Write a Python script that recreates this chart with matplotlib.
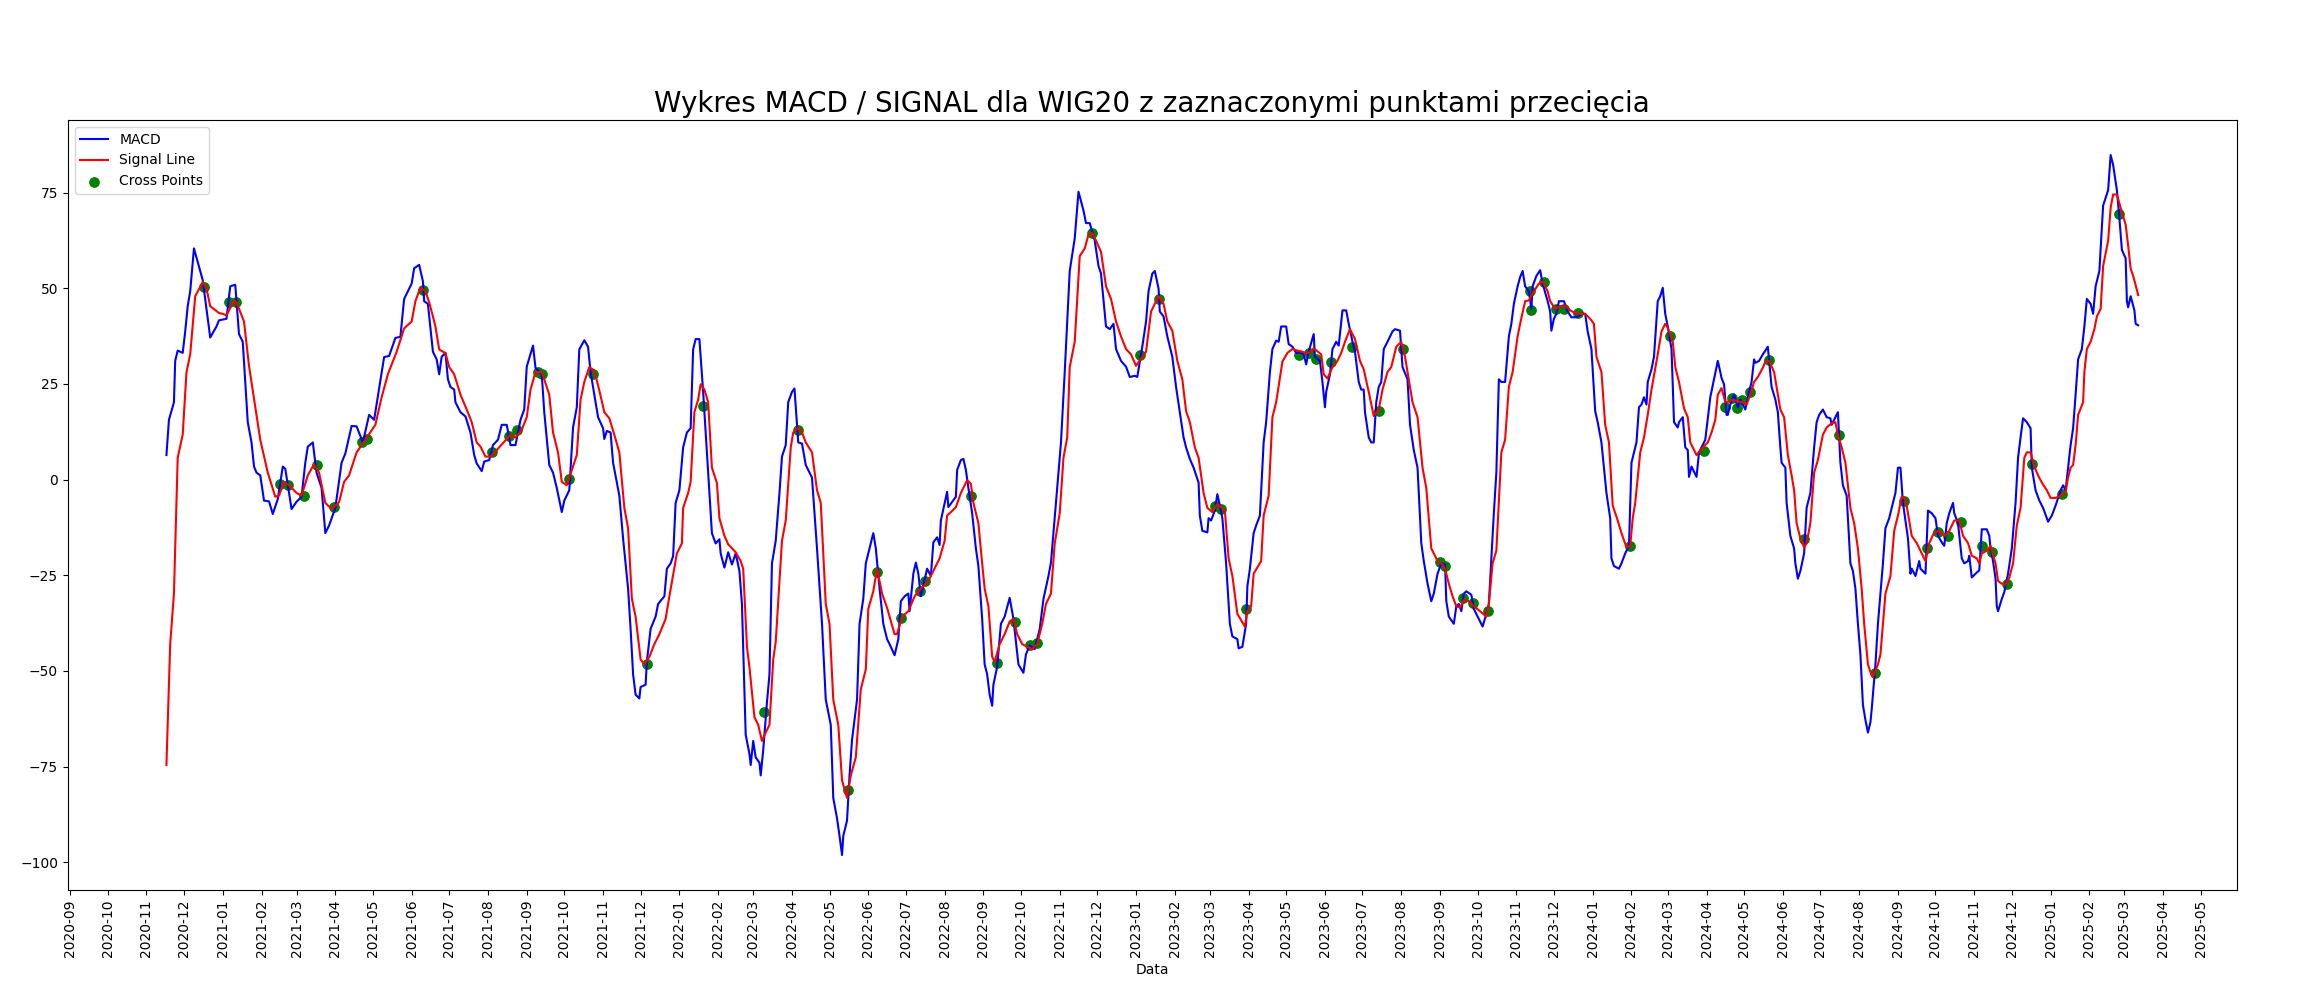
import pandas as pd
import matplotlib
matplotlib.use("Agg")
import matplotlib.pyplot as plt
import matplotlib.dates as mdates

# MACD line
macd_dates = [
    "2020-11-17", "2020-11-19", "2020-11-23", "2020-11-24", "2020-11-26", "2020-11-30", "2020-12-02",
    "2020-12-04", "2020-12-06", "2020-12-09", "2020-12-14", "2020-12-16", "2020-12-19", "2020-12-22",
    "2020-12-27", "2020-12-29", "2021-01-04", "2021-01-07", "2021-01-11", "2021-01-14", "2021-01-17",
    "2021-01-21", "2021-01-24", "2021-01-26", "2021-01-28", "2021-01-31", "2021-02-03", "2021-02-07",
    "2021-02-10", "2021-02-14", "2021-02-18", "2021-02-20", "2021-02-25", "2021-03-01", "2021-03-05",
    "2021-03-08", "2021-03-10", "2021-03-14", "2021-03-17", "2021-03-21", "2021-03-24", "2021-03-27",
    "2021-04-01", "2021-04-06", "2021-04-09", "2021-04-14", "2021-04-18", "2021-04-23", "2021-04-28",
    "2021-05-02", "2021-05-10", "2021-05-14", "2021-05-19", "2021-05-23", "2021-05-26",
    "2021-06-01", "2021-06-03", "2021-06-07", "2021-06-10", "2021-06-11", "2021-06-14", "2021-06-18",
    "2021-06-21", "2021-06-23", "2021-06-25", "2021-06-28", "2021-06-30", "2021-07-02", "2021-07-05",
    "2021-07-06", "2021-07-10", "2021-07-14", "2021-07-18", "2021-07-21", "2021-07-23", "2021-07-27",
    "2021-07-29", "2021-08-02", "2021-08-05", "2021-08-09", "2021-08-12", "2021-08-16", "2021-08-19",
    "2021-08-23", "2021-08-27", "2021-08-30", "2021-09-01", "2021-09-04", "2021-09-06", "2021-09-08",
    "2021-09-13", "2021-09-15", "2021-09-19", "2021-09-22", "2021-09-25", "2021-09-29", "2021-10-01",
    "2021-10-05", "2021-10-08", "2021-10-11", "2021-10-13", "2021-10-17", "2021-10-20", "2021-10-22",
    "2021-10-28", "2021-11-01", "2021-11-02", "2021-11-04", "2021-11-07", "2021-11-09", "2021-11-14",
    "2021-11-17", "2021-11-21", "2021-11-23", "2021-11-25", "2021-11-27", "2021-11-30", "2021-12-01",
    "2021-12-05", "2021-12-06", "2021-12-09", "2021-12-13", "2021-12-15", "2021-12-20", "2021-12-22",
    "2021-12-25", "2021-12-27", "2021-12-29", "2022-01-01", "2022-01-04", "2022-01-07", "2022-01-10",
    "2022-01-12", "2022-01-14", "2022-01-17", "2022-01-20", "2022-01-24", "2022-01-27", "2022-01-30",
    "2022-02-02", "2022-02-03", "2022-02-06", "2022-02-09", "2022-02-12", "2022-02-15", "2022-02-18",
    "2022-02-20", "2022-02-23", "2022-02-26", "2022-02-27", "2022-03-01", "2022-03-03", "2022-03-06",
    "2022-03-07", "2022-03-09", "2022-03-12", "2022-03-14", "2022-03-16", "2022-03-19", "2022-03-22",
    "2022-03-24", "2022-03-27", "2022-03-29", "2022-04-01", "2022-04-03", "2022-04-06", "2022-04-09",
    "2022-04-12", "2022-04-17", "2022-04-21", "2022-04-25", "2022-04-28", "2022-05-02", "2022-05-04",
    "2022-05-07", "2022-05-09", "2022-05-11", "2022-05-12", "2022-05-15", "2022-05-17", "2022-05-19",
    "2022-05-23", "2022-05-25", "2022-05-28", "2022-05-30", "2022-06-01", "2022-06-05", "2022-06-07",
    "2022-06-10", "2022-06-13", "2022-06-16", "2022-06-18", "2022-06-22", "2022-06-25", "2022-06-27",
    "2022-06-30", "2022-07-03", "2022-07-04", "2022-07-07", "2022-07-09", "2022-07-11", "2022-07-13",
    "2022-07-18", "2022-07-21", "2022-07-23", "2022-07-26", "2022-07-28", "2022-07-29", "2022-08-03",
    "2022-08-04", "2022-08-10", "2022-08-11", "2022-08-14", "2022-08-16", "2022-08-18", "2022-08-20",
    "2022-08-23", "2022-08-26", "2022-08-28", "2022-08-31", "2022-09-02", "2022-09-04", "2022-09-06",
    "2022-09-08", "2022-09-09", "2022-09-12", "2022-09-15", "2022-09-18", "2022-09-22", "2022-09-25",
    "2022-09-29", "2022-10-03", "2022-10-05", "2022-10-08", "2022-10-12", "2022-10-16", "2022-10-19",
    "2022-10-23", "2022-10-25", "2022-10-28", "2022-10-31", "2022-11-02", "2022-11-05", "2022-11-09",
    "2022-11-13", "2022-11-16", "2022-11-20", "2022-11-22", "2022-11-25", "2022-11-29", "2022-12-02",
    "2022-12-04", "2022-12-08", "2022-12-11", "2022-12-14", "2022-12-16", "2022-12-20", "2022-12-24",
    "2022-12-27", "2022-12-31", "2023-01-02", "2023-01-06", "2023-01-09", "2023-01-11", "2023-01-14",
    "2023-01-16", "2023-01-19", "2023-01-20", "2023-01-23", "2023-01-26", "2023-01-30", "2023-02-02",
    "2023-02-05", "2023-02-08", "2023-02-10", "2023-02-13", "2023-02-16", "2023-02-20", "2023-02-21",
    "2023-02-23", "2023-02-27", "2023-02-28", "2023-03-02", "2023-03-05", "2023-03-07", "2023-03-09",
    "2023-03-11", "2023-03-14", "2023-03-17", "2023-03-19", "2023-03-23", "2023-03-24", "2023-03-27",
    "2023-03-30", "2023-03-31", "2023-04-02", "2023-04-05", "2023-04-07", "2023-04-10", "2023-04-13",
    "2023-04-15", "2023-04-18", "2023-04-20", "2023-04-23", "2023-04-25", "2023-04-27", "2023-05-01",
    "2023-05-03", "2023-05-06", "2023-05-09", "2023-05-13", "2023-05-15", "2023-05-17", "2023-05-19",
    "2023-05-23", "2023-05-24", "2023-05-28", "2023-05-30", "2023-06-01", "2023-06-02", "2023-06-05",
    "2023-06-07", "2023-06-10", "2023-06-12", "2023-06-15", "2023-06-18", "2023-06-20", "2023-06-23",
    "2023-06-25", "2023-06-28", "2023-06-30", "2023-07-02", "2023-07-03", "2023-07-06", "2023-07-08",
    "2023-07-10", "2023-07-12", "2023-07-14", "2023-07-16", "2023-07-18", "2023-07-21", "2023-07-25",
    "2023-07-27", "2023-07-31", "2023-08-02", "2023-08-06", "2023-08-08", "2023-08-11", "2023-08-14",
    "2023-08-17", "2023-08-19", "2023-08-22", "2023-08-25", "2023-08-27", "2023-08-30", "2023-09-02",
    "2023-09-05", "2023-09-06", "2023-09-08", "2023-09-12", "2023-09-14", "2023-09-16", "2023-09-18",
    "2023-09-20", "2023-09-22", "2023-09-26", "2023-09-28", "2023-10-02", "2023-10-05", "2023-10-08",
    "2023-10-10", "2023-10-12", "2023-10-14", "2023-10-16", "2023-10-18", "2023-10-20", "2023-10-23",
    "2023-10-26", "2023-10-28", "2023-10-30", "2023-11-02", "2023-11-04", "2023-11-06", "2023-11-08",
    "2023-11-11", "2023-11-13", "2023-11-14", "2023-11-17", "2023-11-20", "2023-11-22", "2023-11-26",
    "2023-11-28", "2023-11-29", "2023-12-01", "2023-12-03", "2023-12-05", "2023-12-09", "2023-12-12",
    "2023-12-15", "2023-12-19", "2023-12-23", "2023-12-26", "2023-12-28", "2023-12-31", "2024-01-03",
    "2024-01-05", "2024-01-08", "2024-01-10", "2024-01-12", "2024-01-15", "2024-01-16", "2024-01-18",
    "2024-01-22", "2024-01-24", "2024-01-27", "2024-01-30", "2024-02-01", "2024-02-03", "2024-02-05",
    "2024-02-07", "2024-02-09", "2024-02-11", "2024-02-13", "2024-02-14", "2024-02-17", "2024-02-19",
    "2024-02-22", "2024-02-24", "2024-02-26", "2024-02-28", "2024-03-01", "2024-03-04", "2024-03-06",
    "2024-03-09", "2024-03-10", "2024-03-13", "2024-03-15", "2024-03-17", "2024-03-18", "2024-03-20",
    "2024-03-24", "2024-03-26", "2024-03-31", "2024-04-02", "2024-04-04", "2024-04-07", "2024-04-10",
    "2024-04-12", "2024-04-13", "2024-04-15", "2024-04-17", "2024-04-18", "2024-04-20", "2024-04-23",
    "2024-04-26", "2024-04-28", "2024-05-02", "2024-05-05", "2024-05-07", "2024-05-09", "2024-05-10",
    "2024-05-13", "2024-05-16", "2024-05-18", "2024-05-20", "2024-05-23", "2024-05-26", "2024-05-28",
    "2024-05-30", "2024-05-31", "2024-06-03", "2024-06-04", "2024-06-07", "2024-06-10", "2024-06-11",
    "2024-06-13", "2024-06-15", "2024-06-18", "2024-06-20", "2024-06-23", "2024-06-26", "2024-06-28",
    "2024-06-30", "2024-07-03", "2024-07-06", "2024-07-09", "2024-07-10", "2024-07-13", "2024-07-15",
    "2024-07-17", "2024-07-19", "2024-07-22", "2024-07-25", "2024-07-27", "2024-07-29", "2024-07-31",
    "2024-08-02", "2024-08-04", "2024-08-06", "2024-08-08", "2024-08-10", "2024-08-11", "2024-08-14",
    "2024-08-16", "2024-08-18", "2024-08-20", "2024-08-22", "2024-08-25", "2024-08-27", "2024-08-30",
    "2024-09-01", "2024-09-03", "2024-09-05", "2024-09-09", "2024-09-11", "2024-09-12", "2024-09-15",
    "2024-09-18", "2024-09-19", "2024-09-23", "2024-09-25", "2024-09-28", "2024-10-01", "2024-10-03",
    "2024-10-06", "2024-10-08", "2024-10-10", "2024-10-12", "2024-10-15", "2024-10-16", "2024-10-19",
    "2024-10-22", "2024-10-24", "2024-10-27", "2024-10-28", "2024-10-30", "2024-11-02", "2024-11-05",
    "2024-11-07", "2024-11-11", "2024-11-13", "2024-11-14", "2024-11-16", "2024-11-18", "2024-11-19",
    "2024-11-20", "2024-11-23", "2024-11-25", "2024-11-28", "2024-12-01", "2024-12-04", "2024-12-06",
    "2024-12-08", "2024-12-10", "2024-12-13", "2024-12-16", "2024-12-17", "2024-12-20", "2024-12-23",
    "2024-12-26", "2024-12-30", "2025-01-02", "2025-01-05", "2025-01-09", "2025-01-11", "2025-01-13",
    "2025-01-15", "2025-01-17", "2025-01-19", "2025-01-21", "2025-01-23", "2025-01-26", "2025-01-28",
    "2025-01-30", "2025-02-02", "2025-02-04", "2025-02-06", "2025-02-09", "2025-02-12", "2025-02-14",
    "2025-02-16", "2025-02-18", "2025-02-20", "2025-02-23", "2025-02-25", "2025-02-27", "2025-03-02",
    "2025-03-03", "2025-03-04", "2025-03-06", "2025-03-09", "2025-03-10", "2025-03-12",
]
macd_values = [
    6.4, 15.6, 20.2, 31.0, 33.7, 33.1, 38.7,
    45.3, 49.2, 60.4, 54.5, 52.1, 44.6, 37.1,
    40.0, 41.6, 42.0, 50.5, 50.9, 38.0, 36.0,
    15.0, 9.7, 3.4, 1.8, 1.1, -5.5, -5.7,
    -9.0, -5.1, 3.4, 2.8, -7.7, -5.8, -4.5,
    4.4, 8.6, 9.7, 1.8, -2.2, -14.0, -12.0,
    -7.4, 4.4, 6.8, 14.0, 13.9, 9.7, 16.9,
    15.6, 32.0, 32.3, 37.0, 37.3, 47.2,
    51.2, 55.2, 56.1, 51.8, 46.6, 45.9, 33.4,
    31.4, 27.5, 32.1, 33.1, 26.2, 24.2, 23.5,
    20.2, 17.6, 16.5, 12.3, 6.4, 4.2, 2.2,
    4.7, 5.1, 9.0, 10.4, 14.3, 14.3, 9.0,
    9.0, 15.6, 18.3, 29.5, 32.8, 35.0, 29.2,
    27.5, 17.6, 3.8, 1.8, -2.2, -8.5, -5.5,
    -2.8, 13.6, 18.9, 34.0, 36.4, 34.7, 28.1,
    16.3, 13.4, 10.6, 12.7, 12.3, 4.4, -4.2,
    -15.4, -28.5, -39.0, -50.9, -56.2, -57.2, -54.2,
    -53.6, -47.6, -39.0, -35.8, -32.5, -30.5, -23.3,
    -21.9, -20.0, -6.1, -2.8, 8.4, 12.3, 13.4,
    34.0, 36.7, 36.7, 22.9, 1.8, -14.0, -16.7,
    -15.6, -19.3, -23.0, -19.0, -22.2, -19.3, -23.9,
    -32.5, -66.7, -71.7, -74.6, -68.3, -72.6, -74.0,
    -77.3, -70.7, -58.2, -50.9, -21.9, -16.0, -3.5,
    6.0, 9.0, 20.2, 22.9, 23.8, 9.7, 9.4,
    3.8, 0.5, -18.0, -37.7, -57.5, -64.1, -83.2,
    -88.5, -93.1, -98.1, -93.1, -89.1, -77.3, -68.0,
    -57.5, -37.7, -31.1, -21.9, -19.3, -14.0, -18.0,
    -28.5, -37.7, -41.7, -43.0, -45.9, -41.7, -31.8,
    -30.5, -29.8, -34.4, -24.6, -21.7, -24.6, -30.5,
    -23.3, -25.2, -16.4, -15.1, -17.1, -10.7, -3.2,
    -7.2, -4.5, 2.5, 5.1, 5.4, 2.5, -2.2,
    -8.8, -18.0, -22.6, -36.4, -48.3, -50.9, -56.2,
    -59.1, -53.6, -48.9, -37.7, -35.8, -30.9, -36.4,
    -48.3, -50.5, -45.7, -43.3, -44.3, -39.1, -31.2,
    -25.2, -21.7, -10.1, 1.8, 9.7, 28.1, 54.5,
    63.0, 75.2, 70.3, 67.0, 67.0, 62.4, 55.8,
    53.8, 40.0, 39.3, 40.7, 34.1, 31.0, 29.5,
    26.8, 27.1, 26.8, 34.7, 41.3, 49.2, 53.8,
    54.5, 49.9, 43.9, 42.6, 37.4, 32.1, 24.2,
    17.6, 11.0, 8.4, 5.4, 3.1, -0.8, -9.4,
    -13.4, -13.8, -10.1, -10.7, -8.1, -3.8, -6.8,
    -10.1, -21.9, -37.7, -41.0, -41.7, -44.1, -43.7,
    -37.7, -27.9, -23.3, -14.0, -12.0, -9.4, 9.7,
    15.0, 28.1, 34.1, 36.3, 36.0, 40.0, 40.0,
    35.4, 34.7, 33.1, 33.1, 32.7, 30.1, 33.4,
    38.0, 32.1, 31.0, 25.5, 18.9, 22.9, 27.5,
    34.1, 36.0, 35.0, 44.2, 44.2, 40.7, 36.0,
    33.4, 25.5, 23.5, 23.5, 17.6, 11.0, 9.7,
    9.7, 20.2, 24.2, 25.5, 34.1, 36.0, 38.7,
    39.3, 38.9, 29.4, 26.2, 14.3, 7.7, 3.1,
    -16.6, -21.3, -27.2, -31.8, -29.8, -24.6, -21.9,
    -22.2, -31.8, -35.8, -37.7, -33.1, -32.5, -34.4,
    -29.8, -29.2, -30.1, -33.8, -36.4, -38.4, -35.1,
    -32.5, -20.6, -8.8, 1.8, 26.2, 25.5, 25.5,
    37.4, 40.7, 45.9, 50.5, 52.9, 54.5, 50.5,
    49.2, 44.6, 50.5, 53.2, 54.7, 51.2, 46.6,
    43.9, 38.9, 42.0, 43.3, 46.6, 46.6, 43.9,
    42.4, 42.4, 43.3, 43.3, 38.7, 34.1, 17.9,
    15.0, 9.7, 3.1, -3.5, -10.1, -20.6, -22.6,
    -23.3, -21.9, -19.3, -17.3, 4.4, 7.1, 9.7,
    18.9, 19.6, 21.5, 19.6, 25.5, 28.8, 32.1,
    46.6, 47.9, 50.1, 43.3, 40.0, 34.1, 15.0,
    13.6, 15.0, 16.3, 8.4, 7.7, 0.7, 3.4,
    0.7, 7.1, 10.4, 16.0, 21.5, 26.2, 31.0,
    28.1, 26.5, 24.9, 16.9, 16.9, 19.6, 22.2,
    18.9, 20.9, 18.3, 22.9, 25.5, 31.4, 30.5,
    31.0, 32.7, 33.7, 34.7, 24.2, 20.9, 17.6,
    8.4, 4.4, 3.1, -6.1, -14.7, -18.0, -21.9,
    -25.9, -23.9, -19.3, -7.4, -3.5, 8.4, 15.0,
    16.9, 18.3, 16.3, 16.0, 14.3, 16.3, 17.6,
    4.4, -1.5, -4.2, -21.9, -23.9, -28.5, -37.7,
    -45.7, -58.9, -62.8, -66.1, -63.4, -60.1, -48.3,
    -37.7, -29.8, -21.9, -12.7, -10.1, -7.4, -3.5,
    3.1, 3.1, -6.1, -15.4, -24.6, -23.3, -25.2,
    -21.3, -23.3, -24.6, -8.1, -8.8, -10.1, -14.7,
    -16.4, -17.3, -11.4, -8.8, -6.1, -8.8, -11.4,
    -20.6, -21.9, -21.3, -19.9, -25.6, -24.6, -23.7,
    -13.0, -13.0, -14.7, -18.0, -21.3, -25.9, -33.1,
    -34.4, -31.2, -29.4, -24.6, -18.0, -6.1, 5.7,
    11.0, 16.0, 15.0, 13.4, 3.1, -2.8, -5.5,
    -7.4, -11.0, -9.4, -6.8, -2.8, -1.5, -2.8,
    3.1, 9.0, 13.4, 22.2, 31.4, 34.1, 40.0,
    47.2, 45.9, 43.3, 50.5, 54.5, 71.6, 73.6,
    75.6, 84.8, 82.2, 75.6, 68.3, 60.0, 57.8,
    46.6, 45.0, 47.9, 44.2, 40.7, 40.3,
]

# Signal line
signal_dates = [
    "2020-11-17", "2020-11-20", "2020-11-23", "2020-11-26", "2020-11-30", "2020-12-03", "2020-12-06",
    "2020-12-10", "2020-12-16", "2020-12-19", "2020-12-22", "2020-12-29", "2021-01-01", "2021-01-04",
    "2021-01-10", "2021-01-12", "2021-01-18", "2021-01-22", "2021-01-28", "2021-01-31", "2021-02-06",
    "2021-02-12", "2021-02-15", "2021-02-19", "2021-02-23", "2021-03-01", "2021-03-05", "2021-03-10",
    "2021-03-15", "2021-03-19", "2021-03-24", "2021-03-29", "2021-04-04", "2021-04-08", "2021-04-12",
    "2021-04-18", "2021-04-24", "2021-05-03", "2021-05-08", "2021-05-13", "2021-05-20", "2021-05-26",
    "2021-06-01", "2021-06-04", "2021-06-08", "2021-06-12", "2021-06-15", "2021-06-18", "2021-06-20",
    "2021-06-23", "2021-06-26", "2021-06-28", "2021-07-01", "2021-07-05", "2021-07-10", "2021-07-15",
    "2021-07-19", "2021-07-23", "2021-07-26", "2021-07-30", "2021-08-03", "2021-08-08", "2021-08-14",
    "2021-08-19", "2021-08-23", "2021-08-28", "2021-09-01", "2021-09-04", "2021-09-08", "2021-09-13",
    "2021-09-19", "2021-09-22", "2021-09-26", "2021-09-29", "2021-10-03", "2021-10-05", "2021-10-11",
    "2021-10-14", "2021-10-17", "2021-10-21", "2021-10-25", "2021-10-29", "2021-11-02", "2021-11-06",
    "2021-11-10", "2021-11-14", "2021-11-18", "2021-11-21", "2021-11-24", "2021-11-27", "2021-12-01",
    "2021-12-04", "2021-12-08", "2021-12-12", "2021-12-16", "2021-12-21", "2021-12-24", "2021-12-30",
    "2022-01-03", "2022-01-04", "2022-01-08", "2022-01-10", "2022-01-13", "2022-01-16", "2022-01-18",
    "2022-01-21", "2022-01-24", "2022-01-27", "2022-01-31", "2022-02-02", "2022-02-06", "2022-02-09",
    "2022-02-15", "2022-02-19", "2022-02-21", "2022-02-24", "2022-02-26", "2022-03-02", "2022-03-05",
    "2022-03-08", "2022-03-11", "2022-03-14", "2022-03-17", "2022-03-19", "2022-03-24", "2022-03-27",
    "2022-03-31", "2022-04-02", "2022-04-06", "2022-04-09", "2022-04-12", "2022-04-17", "2022-04-21",
    "2022-04-24", "2022-04-28", "2022-05-01", "2022-05-04", "2022-05-08", "2022-05-11", "2022-05-15",
    "2022-05-18", "2022-05-22", "2022-05-26", "2022-05-30", "2022-06-01", "2022-06-05", "2022-06-08",
    "2022-06-12", "2022-06-16", "2022-06-22", "2022-06-24", "2022-06-28", "2022-07-03", "2022-07-08",
    "2022-07-13", "2022-07-19", "2022-07-23", "2022-07-28", "2022-08-01", "2022-08-03", "2022-08-06",
    "2022-08-10", "2022-08-14", "2022-08-19", "2022-08-22", "2022-08-24", "2022-08-28", "2022-08-31",
    "2022-09-02", "2022-09-05", "2022-09-08", "2022-09-10", "2022-09-14", "2022-09-18", "2022-09-22",
    "2022-09-25", "2022-09-28", "2022-10-02", "2022-10-06", "2022-10-10", "2022-10-14", "2022-10-18",
    "2022-10-21", "2022-10-25", "2022-10-28", "2022-11-01", "2022-11-04", "2022-11-07", "2022-11-09",
    "2022-11-13", "2022-11-17", "2022-11-21", "2022-11-24", "2022-11-27", "2022-11-30", "2022-12-04",
    "2022-12-08", "2022-12-12", "2022-12-16", "2022-12-20", "2022-12-24", "2022-12-28", "2023-01-01",
    "2023-01-06", "2023-01-09", "2023-01-13", "2023-01-16", "2023-01-19", "2023-01-23", "2023-01-26",
    "2023-01-30", "2023-02-03", "2023-02-07", "2023-02-10", "2023-02-13", "2023-02-17", "2023-02-20",
    "2023-02-24", "2023-02-27", "2023-03-03", "2023-03-07", "2023-03-13", "2023-03-16", "2023-03-19",
    "2023-03-23", "2023-03-29", "2023-03-31", "2023-04-03", "2023-04-05", "2023-04-11", "2023-04-13",
    "2023-04-17", "2023-04-20", "2023-04-23", "2023-04-28", "2023-05-02", "2023-05-06", "2023-05-11",
    "2023-05-17", "2023-05-19", "2023-05-23", "2023-05-29", "2023-05-31", "2023-06-03", "2023-06-07",
    "2023-06-11", "2023-06-14", "2023-06-17", "2023-06-21", "2023-06-25", "2023-06-29", "2023-07-02",
    "2023-07-06", "2023-07-10", "2023-07-14", "2023-07-17", "2023-07-21", "2023-07-24", "2023-07-28",
    "2023-08-01", "2023-08-04", "2023-08-07", "2023-08-10", "2023-08-14", "2023-08-18", "2023-08-21",
    "2023-08-25", "2023-08-30", "2023-09-03", "2023-09-05", "2023-09-08", "2023-09-11", "2023-09-14",
    "2023-09-17", "2023-09-20", "2023-09-24", "2023-09-28", "2023-10-03", "2023-10-08", "2023-10-10",
    "2023-10-13", "2023-10-16", "2023-10-20", "2023-10-23", "2023-10-26", "2023-10-29", "2023-11-02",
    "2023-11-04", "2023-11-08", "2023-11-11", "2023-11-15", "2023-11-19", "2023-11-22", "2023-11-26",
    "2023-11-28", "2023-12-02", "2023-12-06", "2023-12-10", "2023-12-14", "2023-12-18", "2023-12-22",
    "2023-12-26", "2023-12-30", "2024-01-02", "2024-01-04", "2024-01-08", "2024-01-11", "2024-01-14",
    "2024-01-17", "2024-01-21", "2024-01-24", "2024-01-28", "2024-01-31", "2024-02-02", "2024-02-04",
    "2024-02-08", "2024-02-11", "2024-02-14", "2024-02-17", "2024-02-22", "2024-02-25", "2024-02-28",
    "2024-03-01", "2024-03-05", "2024-03-07", "2024-03-10", "2024-03-14", "2024-03-17", "2024-03-19",
    "2024-03-24", "2024-03-29", "2024-04-02", "2024-04-05", "2024-04-08", "2024-04-10", "2024-04-13",
    "2024-04-16", "2024-04-19", "2024-04-22", "2024-04-26", "2024-04-30", "2024-05-03", "2024-05-06",
    "2024-05-09", "2024-05-12", "2024-05-16", "2024-05-18", "2024-05-21", "2024-05-25", "2024-05-28",
    "2024-05-30", "2024-06-02", "2024-06-05", "2024-06-08", "2024-06-10", "2024-06-12", "2024-06-15",
    "2024-06-18", "2024-06-20", "2024-06-23", "2024-06-26", "2024-06-29", "2024-07-03", "2024-07-06",
    "2024-07-10", "2024-07-13", "2024-07-15", "2024-07-18", "2024-07-21", "2024-07-25", "2024-07-28",
    "2024-07-31", "2024-08-03", "2024-08-05", "2024-08-08", "2024-08-10", "2024-08-12", "2024-08-16",
    "2024-08-18", "2024-08-22", "2024-08-26", "2024-08-29", "2024-09-01", "2024-09-04", "2024-09-07",
    "2024-09-09", "2024-09-12", "2024-09-16", "2024-09-20", "2024-09-23", "2024-09-26", "2024-09-30",
    "2024-10-04", "2024-10-08", "2024-10-12", "2024-10-16", "2024-10-20", "2024-10-23", "2024-10-27",
    "2024-10-30", "2024-11-03", "2024-11-05", "2024-11-07", "2024-11-11", "2024-11-14", "2024-11-15",
    "2024-11-18", "2024-11-20", "2024-11-23", "2024-11-26", "2024-11-29", "2024-12-02", "2024-12-05",
    "2024-12-08", "2024-12-11", "2024-12-13", "2024-12-16", "2024-12-19", "2024-12-22", "2024-12-25",
    "2024-12-29", "2025-01-01", "2025-01-05", "2025-01-09", "2025-01-13", "2025-01-15", "2025-01-17",
    "2025-01-19", "2025-01-21", "2025-01-23", "2025-01-27", "2025-01-28", "2025-01-30", "2025-02-02",
    "2025-02-05", "2025-02-07", "2025-02-10", "2025-02-12", "2025-02-14", "2025-02-16", "2025-02-18",
    "2025-02-20", "2025-02-23", "2025-02-26", "2025-03-02", "2025-03-04", "2025-03-06", "2025-03-08",
    "2025-03-10", "2025-03-12",
]
signal_values = [
    -74.6, -43.0, -29.8, 5.7, 11.7, 28.0, 32.7,
    47.9, 51.6, 49.9, 45.3, 43.5, 43.3, 42.9,
    46.8, 46.3, 41.3, 29.7, 16.9, 10.4, 1.8,
    -4.5, -4.2, -0.6, -1.5, -3.5, -4.2, 1.1,
    4.0, 1.8, -6.1, -7.7, -5.9, -0.6, 1.1,
    7.1, 9.9, 14.3, 21.5, 27.5, 33.4, 39.5,
    41.3, 46.6, 50.2, 49.2, 46.3, 42.6, 40.0,
    34.0, 33.4, 33.1, 29.4, 27.5, 22.2, 18.3,
    15.0, 9.7, 8.6, 6.0, 6.0, 7.7, 9.9,
    11.7, 11.0, 13.0, 16.3, 23.5, 28.1, 28.1,
    22.2, 12.3, 7.1, -0.6, -1.5, 0.5, 6.4,
    20.9, 25.5, 29.4, 28.5, 23.3, 17.6, 16.0,
    11.7, 7.1, -7.4, -12.7, -31.1, -35.8, -47.0,
    -48.3, -46.3, -43.0, -40.4, -36.4, -30.5, -19.3,
    -16.7, -7.4, -3.5, -0.6, 17.6, 20.9, 24.9,
    23.5, 20.2, 3.1, -0.9, -10.1, -14.7, -16.9,
    -19.0, -21.3, -23.3, -43.7, -49.0, -62.1, -64.1,
    -68.3, -66.1, -64.1, -47.0, -42.4, -16.0, -10.7,
    8.4, 12.3, 13.6, 12.3, 9.7, 7.1, -2.8,
    -6.1, -32.5, -37.7, -57.5, -64.1, -78.6, -83.2,
    -77.3, -72.6, -54.8, -49.6, -33.8, -29.2, -23.3,
    -29.8, -33.5, -40.4, -40.4, -35.8, -34.4, -30.5,
    -28.5, -26.5, -23.9, -20.6, -16.0, -9.4, -8.5,
    -7.2, -3.5, -0.2, -1.1, -6.1, -11.4, -21.9,
    -28.5, -33.1, -46.3, -47.6, -43.0, -40.4, -37.1,
    -36.4, -40.4, -43.0, -43.7, -44.3, -43.0, -37.7,
    -32.5, -29.8, -16.7, -8.8, 5.7, 11.0, 29.4,
    36.0, 58.4, 60.4, 64.0, 64.4, 62.4, 59.5,
    50.5, 47.2, 41.3, 37.4, 34.1, 32.7, 29.7,
    32.1, 33.4, 43.9, 45.9, 47.9, 45.9, 41.3,
    38.9, 31.0, 26.2, 17.9, 15.0, 8.4, 5.7,
    -3.5, -7.4, -8.5, -6.4, -8.1, -20.6, -25.2,
    -35.1, -38.4, -34.4, -33.1, -24.6, -21.3, -9.4,
    -4.2, 16.3, 20.2, 30.8, 33.1, 34.1, 33.6,
    33.1, 33.1, 34.3, 32.7, 27.5, 26.4, 29.4,
    31.0, 33.1, 36.0, 39.3, 36.7, 31.0, 28.8,
    22.9, 16.6, 18.3, 23.5, 28.1, 29.4, 34.7,
    36.0, 32.1, 26.2, 20.2, 16.3, 3.1, -2.2,
    -18.0, -21.3, -22.2, -23.3, -27.2, -30.5, -33.1,
    -33.5, -31.4, -31.8, -33.1, -34.4, -35.8, -32.5,
    -21.9, -18.6, 7.1, 10.4, 24.2, 28.1, 37.4,
    40.7, 46.6, 46.8, 49.2, 51.2, 51.8, 49.2,
    46.6, 44.6, 45.3, 45.5, 44.2, 43.5, 43.3,
    43.3, 42.0, 40.7, 32.1, 28.1, 14.3, 9.7,
    -6.8, -10.7, -14.0, -17.7, -17.3, -10.1, -6.1,
    7.1, 11.0, 16.9, 23.5, 32.7, 38.7, 40.7,
    39.7, 36.0, 29.4, 25.5, 18.6, 16.3, 9.7,
    6.4, 8.4, 9.7, 12.3, 15.6, 22.2, 23.9,
    20.2, 20.4, 20.9, 20.4, 20.2, 19.6, 22.2,
    25.5, 26.8, 29.2, 30.8, 31.0, 28.1, 22.2,
    18.3, 16.3, 6.4, 1.1, -2.8, -11.4, -15.4,
    -17.7, -16.6, -11.4, 1.8, 5.1, 11.7, 13.6,
    14.7, 15.0, 11.7, 8.4, 4.4, -7.4, -11.4,
    -18.0, -28.5, -37.7, -48.3, -50.3, -51.6, -48.3,
    -45.7, -29.8, -25.2, -13.4, -9.4, -4.5, -5.1,
    -8.8, -14.7, -16.6, -19.3, -21.3, -16.6, -13.8,
    -13.4, -14.7, -13.4, -10.7, -10.7, -14.7, -16.6,
    -19.9, -20.6, -21.9, -19.3, -18.6, -17.3, -18.6,
    -21.9, -26.5, -27.2, -27.5, -25.6, -21.9, -12.0,
    -7.4, 5.7, 7.1, 7.1, 3.4, 1.1, -0.8,
    -2.8, -4.8, -4.8, -4.2, -3.2, 0.5, 3.1,
    3.8, 9.0, 16.9, 20.2, 28.1, 34.1, 36.0,
    39.3, 42.6, 44.6, 55.8, 59.1, 62.4, 71.0,
    74.5, 74.5, 71.0, 66.6, 61.1, 55.1, 53.2,
    50.8, 48.2,
]

# Points where MACD crosses the signal line
cross_dates = [
    "2020-12-17", "2021-01-06", "2021-01-12", "2021-02-16", "2021-02-22", "2021-03-07", "2021-03-17",
    "2021-03-31", "2021-04-22", "2021-04-26", "2021-06-10", "2021-08-04", "2021-08-18", "2021-08-24",
    "2021-09-10", "2021-09-13", "2021-10-05", "2021-10-24", "2021-12-06", "2022-01-20", "2022-03-10",
    "2022-04-06", "2022-05-16", "2022-06-08", "2022-06-27", "2022-07-12", "2022-07-16", "2022-08-22",
    "2022-09-12", "2022-09-26", "2022-10-08", "2022-10-14", "2022-11-27", "2023-01-04", "2023-01-19",
    "2023-03-05", "2023-03-10", "2023-03-30", "2023-05-11", "2023-05-19", "2023-05-25", "2023-06-06",
    "2023-06-23", "2023-07-14", "2023-08-02", "2023-09-01", "2023-09-05", "2023-09-19", "2023-09-27",
    "2023-10-09", "2023-11-12", "2023-11-13", "2023-11-23", "2023-12-03", "2023-12-09", "2023-12-20",
    "2024-01-31", "2024-03-03", "2024-03-30", "2024-04-16", "2024-04-21", "2024-04-25", "2024-04-29",
    "2024-05-06", "2024-05-21", "2024-06-18", "2024-07-16", "2024-08-14", "2024-09-06", "2024-09-24",
    "2024-10-03", "2024-10-11", "2024-10-21", "2024-11-07", "2024-11-15", "2024-11-27", "2024-12-17",
    "2025-01-10", "2025-02-25",
]
cross_values = [
    50.3, 46.3, 46.3, -1.1, -1.5, -4.3, 3.8,
    -7.2, 9.7, 10.7, 49.5, 7.1, 11.3, 13.0,
    28.1, 27.7, 0.2, 27.7, -48.3, 19.2, -60.7,
    13.0, -81.2, -24.2, -36.2, -29.2, -26.6, -4.2,
    -47.9, -37.1, -43.3, -42.6, 64.4, 32.5, 47.2,
    -6.8, -7.8, -33.8, 32.5, 33.1, 31.4, 30.8,
    34.7, 17.9, 34.1, -21.6, -22.6, -30.9, -32.2,
    -34.4, 49.2, 44.2, 51.6, 44.6, 44.6, 43.5,
    -17.3, 37.4, 7.5, 18.9, 21.3, 18.6, 20.9,
    22.9, 31.2, -15.6, 11.7, -50.5, -5.7, -18.0,
    -13.8, -14.7, -11.0, -17.3, -19.0, -27.2, 4.0,
    -3.8, 69.4,
]

macd = pd.Series(macd_values, index=pd.to_datetime(macd_dates))
signal = pd.Series(signal_values, index=pd.to_datetime(signal_dates))
crosses = pd.Series(cross_values, index=pd.to_datetime(cross_dates))

fig = plt.figure(figsize=(23, 10))
plt.plot(macd.index, macd.values, label="MACD", color="blue")
plt.plot(signal.index, signal.values, label="Signal Line", color="red")
# scatter stays under the lines, like in the original
plt.scatter(crosses.index, crosses.values, color="green", s=45, label="Cross Points")

plt.title("Wykres MACD / SIGNAL dla WIG20 z zaznaczonymi punktami przecięcia", fontsize=20)
plt.xlabel("Data")
plt.legend(loc="upper left")

ax = plt.gca()
ax.xaxis.set_major_locator(mdates.MonthLocator())
ax.xaxis.set_major_formatter(mdates.DateFormatter("%Y-%m"))
plt.xticks(rotation=90)

plt.subplots_adjust(left=0.0295, right=0.9725, top=0.88, bottom=0.11)
plt.savefig("out.png", dpi=100)
